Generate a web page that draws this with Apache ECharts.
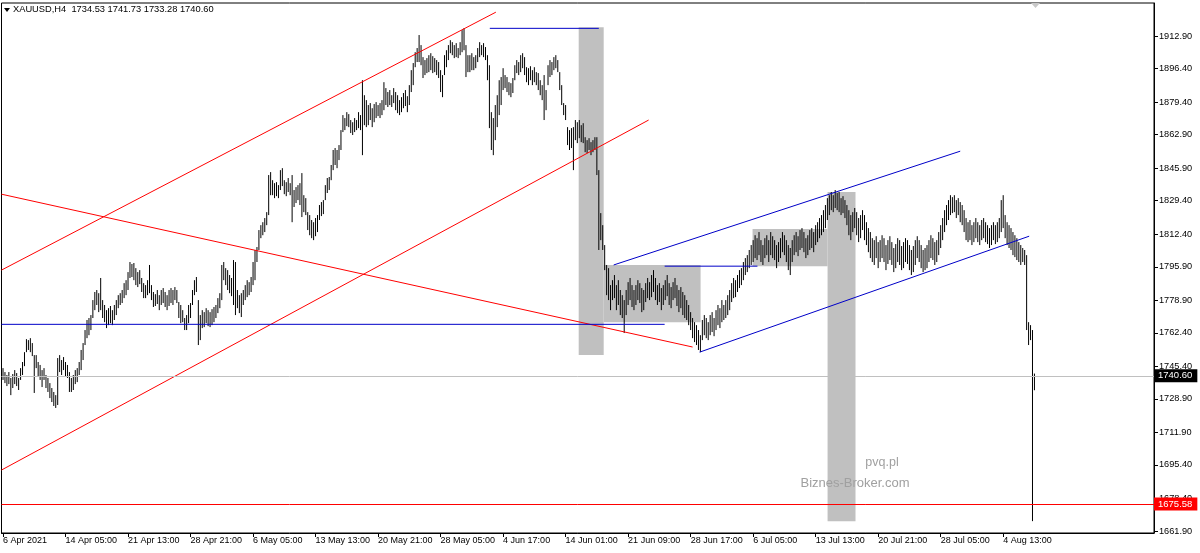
<!DOCTYPE html>
<html><head><meta charset="utf-8">
<script src="https://cdn.jsdelivr.net/npm/echarts@6/dist/echarts.min.js"></script>
<style>html,body{margin:0;padding:0;background:#fff;}#c{width:1200px;height:553px;}</style>
</head><body><div id="c"></div>
<script>
// ---------------- data ----------------
const symbolName = 'XAUUSD,H4';
const lastBarOHLC = [1734.53, 1741.73, 1733.28, 1740.60];
const timeLabels = ['6 Apr 2021','14 Apr 05:00','21 Apr 13:00','28 Apr 21:00','6 May 05:00','13 May 13:00','20 May 21:00','28 May 05:00','4 Jun 17:00','14 Jun 01:00','21 Jun 09:00','28 Jun 17:00','6 Jul 05:00','13 Jul 13:00','20 Jul 21:00','28 Jul 05:00','4 Aug 13:00'];
const timeLabelBars = [0,32,64,96,128,160,192,224,256,288,320,352,384,416,448,480,512];
const priceTicks = [1661.90,1678.40,1695.40,1711.90,1728.90,1745.40,1762.40,1778.90,1795.90,1812.40,1829.40,1845.90,1862.90,1879.40,1896.40,1912.90];
const currentPrice = 1740.60;
const alertLevel = 1675.58;

// H4 bar highs / lows (bar index 0 = first bar on the left)
const highs = [
1744.5,1742.5,1741.0,1742.5,1739.5,1741.5,1743.5,1742.0,1739.5,1744.5,
1747.6,1752.6,1759.2,1758.7,1759.7,1757.2,1751.1,1751.1,1747.6,1746.1,
1743.5,1744.5,1741.0,1739.5,1736.9,1734.4,1732.4,1730.8,1749.6,1751.1,
1748.6,1750.1,1747.6,1746.1,1742.5,1739.5,1741.0,1743.5,1744.5,1747.6,
1753.7,1757.2,1763.8,1768.9,1769.9,1771.4,1779.0,1783.1,1784.1,1782.5,
1790.2,1779.0,1776.5,1773.9,1774.9,1776.0,1773.9,1776.5,1779.0,1781.5,
1782.5,1784.1,1787.6,1789.1,1793.2,1798.3,1797.3,1797.8,1795.2,1793.2,
1794.2,1790.2,1787.6,1786.6,1789.1,1796.8,1786.6,1783.1,1782.0,1784.1,
1781.5,1784.1,1785.1,1783.1,1781.5,1784.1,1785.1,1784.1,1785.6,1784.1,
1778.0,1776.5,1773.9,1769.9,1771.4,1776.5,1777.5,1784.1,1789.1,1790.7,
1779.0,1771.4,1773.9,1772.9,1774.9,1773.9,1772.9,1774.4,1775.5,1776.5,
1780.0,1782.5,1796.8,1798.3,1795.2,1794.2,1791.7,1790.2,1799.3,1798.3,
1784.1,1781.5,1782.5,1784.1,1786.6,1789.1,1788.1,1790.7,1798.3,1804.4,
1805.9,1814.5,1817.0,1818.5,1820.6,1823.6,1842.4,1843.9,1839.8,1838.3,
1838.8,1837.3,1844.9,1845.9,1839.8,1838.8,1840.9,1838.3,1842.4,1834.8,
1836.3,1837.3,1838.3,1843.4,1832.2,1830.7,1823.6,1822.1,1819.6,1818.5,
1820.6,1822.1,1827.2,1828.7,1829.7,1837.3,1840.9,1841.4,1847.5,1855.1,
1856.1,1855.1,1857.6,1865.2,1872.8,1871.3,1874.3,1873.3,1870.3,1869.2,
1871.3,1870.3,1874.3,1872.8,1890.5,1882.9,1880.4,1877.9,1878.9,1876.3,
1878.4,1879.4,1877.9,1878.9,1880.4,1889.5,1886.5,1884.5,1885.5,1882.9,
1886.5,1884.5,1882.9,1880.4,1881.9,1884.0,1885.5,1882.4,1888.0,1895.6,
1899.2,1904.7,1906.8,1913.4,1908.3,1902.2,1900.7,1901.7,1903.2,1904.2,
1902.7,1901.7,1900.7,1899.7,1895.6,1893.1,1903.2,1905.7,1908.3,1910.8,
1909.8,1908.3,1909.3,1906.8,1909.8,1915.9,1916.9,1908.3,1903.2,1903.2,
1904.2,1902.2,1903.2,1906.8,1909.8,1908.3,1909.3,1907.3,1903.2,1898.1,
1874.3,1871.3,1877.9,1882.9,1890.5,1892.1,1896.6,1893.1,1892.1,1889.5,
1889.0,1891.6,1898.1,1900.7,1899.7,1903.2,1904.2,1902.2,1897.1,1896.6,
1897.6,1895.6,1897.1,1894.6,1894.1,1890.5,1888.0,1893.1,1885.5,1898.1,
1900.7,1899.7,1902.2,1903.2,1900.7,1894.6,1888.0,1878.9,1877.9,1866.7,
1865.2,1866.2,1866.7,1870.3,1869.2,1870.3,1867.7,1868.7,1861.6,1860.1,
1861.1,1859.1,1860.1,1861.6,1861.6,1844.9,1823.1,1817.0,1806.9,1796.8,
1795.2,1786.6,1789.1,1791.7,1786.6,1789.1,1784.1,1781.5,1779.0,1784.1,
1788.1,1790.2,1786.6,1784.1,1786.6,1789.1,1787.6,1785.1,1784.1,1787.6,
1790.2,1788.1,1791.7,1794.2,1790.2,1786.6,1787.6,1785.1,1786.6,1789.1,
1791.7,1787.6,1785.6,1788.1,1790.2,1786.6,1784.1,1785.6,1783.1,1781.5,
1779.0,1776.5,1772.9,1769.9,1767.8,1766.3,1763.8,1761.2,1768.9,1771.4,
1769.9,1767.8,1771.4,1772.9,1769.9,1773.9,1776.5,1774.9,1779.0,1776.5,
1779.0,1781.5,1784.1,1787.6,1790.2,1789.1,1791.7,1794.2,1795.2,1798.3,
1800.3,1801.8,1804.4,1806.9,1809.4,1811.9,1810.4,1813.5,1809.4,1806.9,
1810.4,1811.9,1809.4,1813.5,1811.4,1809.4,1806.9,1808.4,1810.4,1813.5,
1811.9,1809.4,1806.9,1805.4,1809.4,1811.9,1813.5,1811.4,1814.5,1815.5,
1813.5,1810.4,1811.9,1814.5,1815.5,1813.5,1817.0,1818.5,1820.6,1822.1,
1824.6,1827.2,1830.7,1832.2,1833.8,1832.2,1834.8,1833.3,1833.8,1830.7,
1831.7,1829.7,1827.2,1824.6,1822.1,1823.6,1825.7,1823.6,1820.6,1822.1,
1824.6,1822.1,1818.5,1815.5,1813.5,1810.4,1809.4,1811.4,1808.4,1809.4,
1811.9,1810.4,1806.9,1809.4,1811.4,1808.4,1805.4,1807.4,1810.4,1809.4,
1806.4,1808.4,1810.4,1809.4,1806.9,1804.4,1806.4,1809.4,1811.4,1809.4,
1806.9,1804.4,1805.4,1806.9,1809.4,1811.9,1810.4,1808.4,1809.4,1813.5,
1817.0,1820.6,1824.6,1827.2,1829.7,1832.2,1831.2,1832.2,1829.7,1830.7,
1828.7,1827.2,1824.6,1820.6,1818.5,1819.6,1817.0,1818.5,1820.6,1818.5,
1817.0,1819.6,1820.6,1818.5,1817.0,1815.5,1817.0,1818.5,1817.0,1818.5,
1820.6,1829.7,1832.2,1822.1,1818.5,1817.0,1815.5,1813.5,1811.9,1810.4,
1808.4,1806.9,1805.4,1804.4,1801.8,1767.8,1766.3,1763.8,1741.73
];
const lows = [
1738.5,1736.9,1735.4,1736.4,1730.8,1734.4,1736.4,1735.4,1733.4,1738.5,
1741.0,1745.5,1752.6,1753.7,1752.6,1750.6,1731.9,1744.5,1740.0,1738.5,
1734.9,1738.5,1734.4,1732.4,1729.3,1727.3,1725.3,1724.3,1725.8,1742.5,
1741.0,1743.5,1740.5,1739.5,1732.4,1732.4,1733.4,1736.4,1737.4,1741.0,
1743.5,1748.6,1756.2,1759.7,1761.2,1763.8,1769.9,1773.9,1776.5,1772.9,
1773.9,1769.9,1767.8,1764.8,1766.3,1767.3,1766.3,1768.9,1771.4,1774.9,
1776.5,1777.5,1780.0,1781.5,1784.1,1790.2,1790.7,1789.1,1786.6,1785.6,
1787.1,1783.1,1780.0,1780.0,1781.5,1782.5,1779.0,1775.5,1776.0,1777.0,
1773.9,1776.5,1777.5,1775.5,1773.9,1776.0,1777.5,1776.5,1779.0,1777.5,
1769.9,1767.3,1767.8,1763.8,1763.8,1767.3,1769.9,1776.5,1781.5,1783.1,
1756.2,1758.7,1764.8,1765.3,1767.3,1765.8,1765.3,1766.3,1767.8,1769.9,
1772.4,1774.9,1779.0,1789.1,1786.6,1784.1,1782.5,1781.0,1776.5,1771.4,
1774.9,1772.4,1770.4,1776.5,1779.0,1780.5,1781.5,1783.1,1786.6,1789.1,
1798.3,1804.4,1810.4,1811.9,1813.5,1817.0,1822.1,1832.2,1832.2,1830.7,
1831.7,1830.7,1834.8,1836.8,1832.7,1831.7,1833.8,1832.2,1818.5,1826.2,
1828.2,1829.7,1827.2,1821.1,1823.6,1822.1,1814.5,1811.9,1810.4,1809.4,
1811.4,1813.5,1819.6,1821.6,1822.6,1829.7,1833.3,1834.8,1839.8,1844.9,
1847.5,1845.9,1850.0,1855.1,1864.2,1865.2,1867.2,1866.7,1863.7,1862.7,
1864.2,1865.2,1866.2,1865.2,1852.5,1867.7,1866.7,1867.7,1870.3,1866.7,
1869.2,1871.3,1872.3,1871.3,1872.8,1875.3,1877.9,1876.9,1877.9,1876.9,
1878.9,1875.3,1873.8,1872.8,1874.3,1876.3,1877.4,1874.3,1877.9,1884.5,
1888.0,1897.1,1899.7,1899.7,1898.1,1891.6,1893.1,1894.1,1894.6,1895.6,
1894.1,1894.6,1893.1,1891.6,1884.5,1881.9,1893.1,1897.1,1900.7,1904.2,
1903.2,1901.7,1902.2,1901.7,1903.2,1904.7,1905.7,1892.1,1894.6,1894.6,
1895.6,1895.6,1896.6,1899.7,1902.2,1903.2,1902.2,1900.7,1890.5,1866.2,
1855.1,1852.5,1860.1,1866.7,1872.8,1877.9,1885.5,1886.5,1884.5,1882.9,
1881.9,1884.0,1890.5,1894.1,1893.1,1894.6,1896.6,1893.1,1889.5,1888.0,
1890.5,1888.0,1889.5,1888.0,1885.5,1882.9,1880.4,1870.3,1875.3,1888.0,
1892.1,1893.1,1895.6,1896.6,1894.6,1885.5,1877.9,1872.8,1870.3,1857.6,
1855.1,1856.1,1844.9,1860.1,1858.6,1861.1,1859.1,1858.6,1854.0,1853.5,
1855.1,1852.5,1854.0,1855.1,1842.4,1804.4,1809.4,1804.4,1794.2,1781.5,
1779.0,1773.9,1779.0,1780.0,1773.9,1776.5,1771.4,1769.9,1762.3,1771.4,
1776.5,1779.0,1775.5,1773.9,1776.5,1779.0,1777.5,1772.9,1773.9,1778.0,
1780.0,1779.0,1780.5,1783.1,1779.0,1776.5,1778.0,1773.9,1776.5,1779.0,
1781.0,1776.5,1774.9,1779.0,1780.0,1776.0,1772.9,1774.9,1771.4,1769.9,
1768.9,1766.3,1763.8,1759.7,1757.7,1756.2,1753.7,1752.6,1758.7,1761.2,
1759.7,1758.7,1761.2,1762.8,1760.7,1763.8,1766.3,1764.8,1767.8,1768.9,
1769.9,1771.4,1773.9,1778.0,1780.0,1780.5,1783.1,1785.1,1786.6,1789.1,
1791.7,1793.2,1795.2,1796.8,1798.3,1800.3,1799.3,1801.8,1798.3,1796.8,
1800.3,1801.8,1798.3,1801.8,1800.3,1799.3,1795.2,1798.3,1800.3,1803.3,
1801.8,1798.3,1794.2,1791.7,1798.3,1801.8,1803.3,1801.3,1804.4,1805.4,
1803.3,1800.3,1801.8,1804.4,1805.4,1803.3,1806.9,1808.4,1810.4,1811.9,
1813.5,1815.5,1819.6,1822.1,1824.6,1823.6,1825.7,1824.6,1823.6,1822.1,
1823.1,1820.6,1817.0,1811.9,1809.4,1813.5,1815.5,1811.9,1808.4,1810.4,
1814.5,1809.4,1806.9,1803.3,1800.3,1798.3,1796.8,1800.3,1795.2,1798.3,
1800.3,1798.3,1794.2,1797.3,1799.3,1796.8,1793.2,1795.2,1798.3,1796.8,
1794.2,1795.2,1798.3,1797.3,1794.2,1791.7,1793.2,1796.8,1800.3,1798.3,
1795.2,1793.2,1794.2,1795.2,1798.3,1800.3,1799.3,1796.8,1798.3,1801.8,
1805.4,1809.4,1813.5,1817.0,1819.6,1822.1,1823.1,1823.6,1820.6,1822.1,
1818.5,1817.0,1813.5,1809.4,1808.4,1809.4,1806.9,1808.4,1810.4,1808.4,
1806.9,1809.4,1810.4,1808.4,1807.4,1805.4,1806.9,1809.4,1807.4,1808.4,
1810.4,1813.5,1815.5,1810.4,1806.9,1805.4,1804.4,1801.8,1800.8,1799.3,
1798.3,1796.8,1798.3,1796.8,1763.8,1756.2,1758.7,1666.9,1733.28
];

// drawn objects: [barIndex, price] end points
const redLines = [
  [[-0.8, 1794.2], [252.3, 1925.0]],
  [[-0.8, 1692.8], [330.5, 1870.3]],
  [[-0.8, 1832.7], [353.0, 1755.2]]
];
const blueLines = [
  [[-0.8, 1766.7], [338.7, 1766.7]],
  [[249.2, 1916.8], [305.0, 1916.8]],
  [[338.7, 1796.2], [386.2, 1796.2]],
  [[312.6, 1796.8], [490.0, 1854.5]],
  [[356.6, 1752.6], [525.3, 1811.4]]
];
// rectangles: [fromBar, toBar, topPrice, bottomPrice]
const boxes = [
  [294.7, 307.5, 1917.4, 1751.1],
  [307.5, 357.1, 1796.8, 1767.8],
  [383.7, 422.1, 1815.0, 1796.2],
  [422.1, 436.4, 1833.8, 1666.9]
];

// ---------------- chart ----------------
const FONT = 'Liberation Sans';
const chart = echarts.init(document.getElementById('c'), null, {renderer: 'canvas'});
const barData = highs.map((h, i) => [i, h, lows[i]]);

function lineSeries(pts, color) {
  return {type: 'line', data: pts, showSymbol: false, symbol: 'none', silent: true, z: 4,
    lineStyle: {color: color, width: 1}, animation: false};
}

const series = [
  {
    type: 'custom', data: boxes, z: 1, silent: true, clip: true,
    encode: {x: [0, 1], y: [2, 3]},
    renderItem: function (params, api) {
      const p0 = api.coord([api.value(0), api.value(2)]);
      const p1 = api.coord([api.value(1), api.value(3)]);
      return {type: 'rect', shape: {x: p0[0], y: p0[1], width: p1[0] - p0[0], height: p1[1] - p0[1]},
        style: {fill: '#c0c0c0'}};
    }
  },
  {
    type: 'line', data: [], z: 2, silent: true,
    markLine: {
      symbol: 'none', silent: true, animation: false,
      data: [
        {yAxis: currentPrice, lineStyle: {color: '#c0c0c0', width: 1, type: 'solid'},
          label: {show: true, position: 'end', distance: 0, formatter: currentPrice.toFixed(2),
            backgroundColor: '#000', color: '#fff', padding: [2, 5, 1, 4], fontSize: 9.5, fontFamily: FONT}},
        {yAxis: alertLevel, lineStyle: {color: '#ff0000', width: 1, type: 'solid'},
          label: {show: true, position: 'end', distance: 0, formatter: alertLevel.toFixed(2),
            backgroundColor: '#ff0000', color: '#fff', padding: [2, 5, 1, 4], fontSize: 9.5, fontFamily: FONT}}
      ]
    }
  },
  {
    type: 'custom', data: barData, z: 3, silent: true, clip: true,
    encode: {x: 0, y: [1, 2]},
    renderItem: function (params, api) {
      const i = api.value(0);
      const t = api.coord([i, api.value(1)]);
      const b = api.coord([i, api.value(2)]);
      return {type: 'line', shape: {x1: t[0], y1: t[1], x2: b[0], y2: b[1]},
        style: {stroke: '#000', lineWidth: 1}};
    }
  }
];
redLines.forEach(l => series.push(lineSeries(l, '#ff0000')));
blueLines.forEach(l => series.push(lineSeries(l, '#0000c8')));

chart.setOption({
  animation: false,
  backgroundColor: '#fff',
  grid: {left: 0, right: 46, top: 3, bottom: 20, show: true, borderColor: '#000', borderWidth: 1, backgroundColor: '#fff'},
  xAxis: {
    type: 'value', min: -0.767, max: 589.2,
    axisLine: {show: true, onZero: false, lineStyle: {color: '#000'}},
    axisTick: {show: true, length: 4, lineStyle: {color: '#000'}, customValues: timeLabelBars},
    axisLabel: {customValues: timeLabelBars, align: 'left', margin: 3, color: '#000', fontSize: 9, fontFamily: FONT,
      formatter: v => timeLabels[Math.round(v / 32)] || ''},
    splitLine: {show: false}
  },
  yAxis: {
    type: 'value', position: 'right', min: 1660.89, max: 1929.65,
    axisLine: {show: true, onZero: false, lineStyle: {color: '#000'}},
    axisTick: {show: true, length: 4, lineStyle: {color: '#000'}, customValues: priceTicks},
    axisLabel: {customValues: priceTicks, margin: 5, color: '#000', fontSize: 9.2, fontFamily: FONT,
      formatter: v => v.toFixed(2)},
    splitLine: {show: false}
  },
  graphic: [
    {type: 'polygon', shape: {points: [[4, 8], [10, 8], [7, 12]]}, style: {fill: '#000'}, z: 10},
    {type: 'text', left: 13, top: 5, z: 10,
      style: {text: symbolName + '  ' + lastBarOHLC.map(v => v.toFixed(2)).join(' '), fill: '#000', fontSize: 9.3, fontFamily: FONT}},
    {type: 'polygon', shape: {points: [[1031, 3], [1040, 3], [1035.5, 8]]}, style: {fill: '#c8c8c8'}, z: 10},
    {type: 'text', x: 882, y: 463, z: 10,
      style: {text: 'pvq.pl', fill: '#a0a0a0', fontSize: 12.5, fontFamily: FONT, align: 'center', verticalAlign: 'middle'}},
    {type: 'text', x: 855, y: 483, z: 10,
      style: {text: 'Biznes-Broker.com', fill: '#a0a0a0', fontSize: 13, fontFamily: FONT, align: 'center', verticalAlign: 'middle'}}
  ],
  series: series
});
</script></body></html>
